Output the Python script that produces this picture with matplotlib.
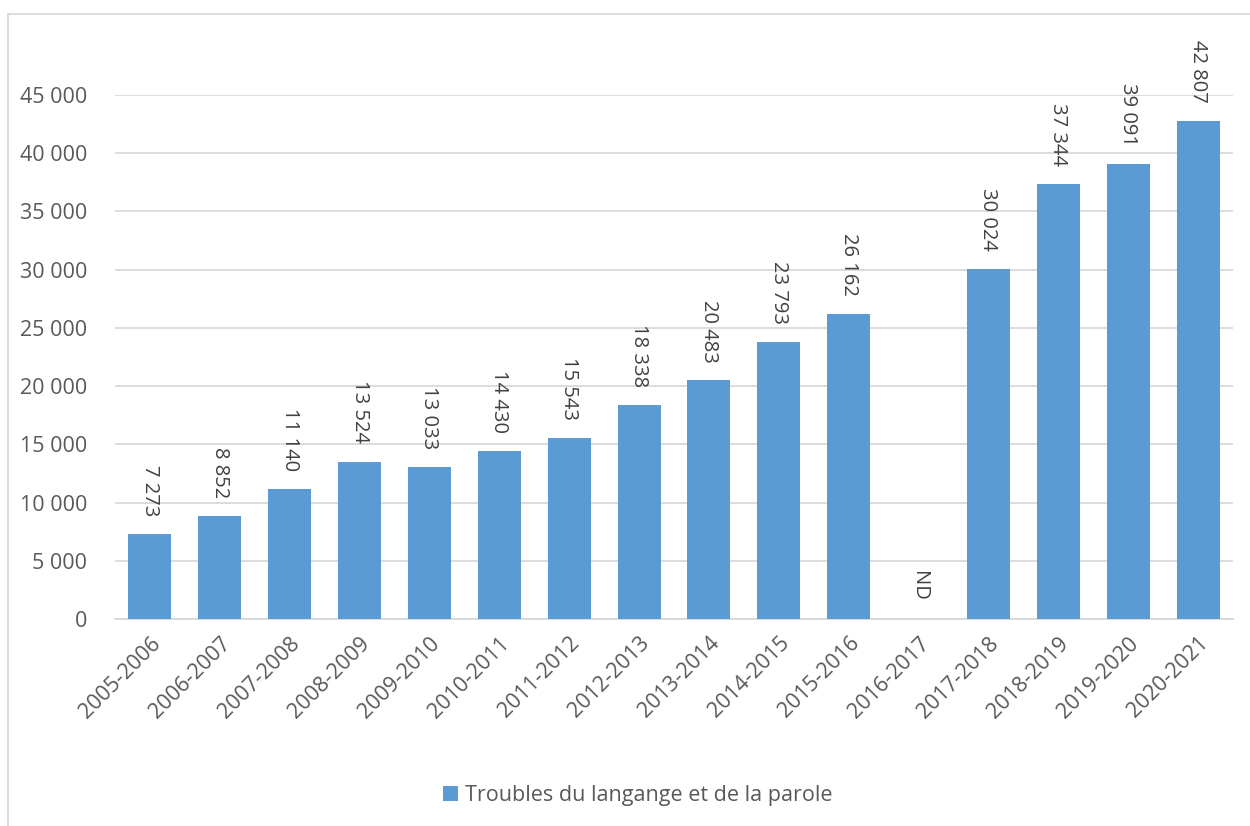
import numpy as np
import matplotlib
matplotlib.use("Agg")
import matplotlib.pyplot as plt
from matplotlib.patches import Rectangle
from matplotlib.ticker import FuncFormatter

plt.rcParams['font.family'] = ['Open Sans', 'DejaVu Sans']

years = ['2005-2006', '2006-2007', '2007-2008', '2008-2009', '2009-2010',
         '2010-2011', '2011-2012', '2012-2013', '2013-2014', '2014-2015',
         '2015-2016', '2016-2017', '2017-2018', '2018-2019', '2019-2020',
         '2020-2021']
# None = ND (non disponible)
values = [7273, 8852, 11140, 13524, 13033, 14430, 15543, 18338, 20483,
          23793, 26162, None, 30024, 37344, 39091, 42807]
series_name = 'Troubles du langange et de la parole'

BAR = '#5B9BD5'
TXT = '#595959'
GRID = '#D9D9D9'


def fmt(v):
    return f'{int(v):,}'.replace(',', ' ')


fig = plt.figure(figsize=(12.5, 8.26), dpi=100)
ax = fig.add_axes([0.092, 0.2506, 0.8944, 0.6344])

x = np.arange(len(years))
heights = [v if v is not None else 0 for v in values]
bars = ax.bar(x, heights, width=0.615, color=BAR, zorder=3, label=series_name)

for xi, v in zip(x, values):
    label = fmt(v) if v is not None else 'ND'
    ax.annotate(label, (xi, v if v is not None else 0), xytext=(0, 13),
                textcoords='offset points', rotation=-90, ha='center',
                va='bottom', fontsize=14.5, color='#404040')

ax.set_xlim(-0.5, len(years) - 0.5)
ax.set_ylim(0, 45000)
ax.set_yticks(np.arange(0, 45001, 5000))
ax.yaxis.set_major_formatter(FuncFormatter(lambda v, p: fmt(v)))
ax.grid(axis='y', color=GRID, linewidth=1.3, zorder=0)
ax.set_xticks(x)
ax.set_xticklabels(years, rotation=45, ha='right', rotation_mode='anchor')
for s in ['top', 'right', 'left']:
    ax.spines[s].set_visible(False)
ax.spines['bottom'].set_color(GRID)
ax.spines['bottom'].set_linewidth(1.3)
ax.tick_params(axis='both', length=0, labelsize=15.5, colors=TXT)
ax.tick_params(axis='y', pad=20)
ax.tick_params(axis='x', pad=10)

# chart border
fig.patches.append(Rectangle((8 / 1250, -0.1), 1.2, 1 - 14 / 826 + 0.1,
                             transform=fig.transFigure, fill=False,
                             edgecolor=GRID, linewidth=1.3))

leg = fig.legend(handles=[bars], labels=[series_name], loc='center',
                 bbox_to_anchor=(0.51, 0.037), frameon=False, fontsize=15.5,
                 handlelength=0.7, handleheight=0.7, handletextpad=0.3)
for t in leg.get_texts():
    t.set_color(TXT)

fig.savefig('out.png', dpi=100)
